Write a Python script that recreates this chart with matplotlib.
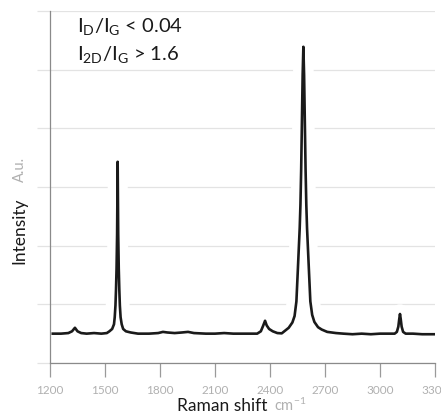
import matplotlib
matplotlib.use("Agg")
import matplotlib.pyplot as plt
import matplotlib.patheffects as pe

plt.rcParams['font.family'] = ['Lato', 'DejaVu Sans']
plt.rcParams['mathtext.fontset'] = 'custom'
plt.rcParams['mathtext.rm'] = 'Lato'
plt.rcParams['mathtext.it'] = 'Lato'

# Raman spectrum (shift in cm-1, intensity in a.u.)
shift = [1215, 1260, 1300, 1320, 1336, 1350, 1370, 1400, 1440, 1480, 1510,
         1524, 1539, 1549, 1553, 1557, 1560, 1563, 1566, 1569, 1572, 1575,
         1578, 1581, 1585, 1591, 1599, 1614, 1640, 1680, 1740, 1790, 1816,
         1840, 1880, 1920, 1953, 1985, 2050, 2100, 2150, 2200, 2250, 2300,
         2330, 2350, 2362, 2373, 2382, 2395, 2415, 2440, 2464, 2482, 2502,
         2522, 2534, 2544, 2552, 2557, 2562, 2566, 2570, 2574, 2578, 2582,
         2586, 2590, 2594, 2598, 2602, 2607, 2612, 2620, 2630, 2642, 2662,
         2682, 2712, 2760, 2800, 2850, 2900, 2950, 3000, 3060, 3080, 3092,
         3100, 3105, 3109, 3113, 3118, 3126, 3140, 3180, 3230, 3300]
intensity = [0.50, 0.50, 0.51, 0.54, 0.60, 0.54, 0.51, 0.50, 0.51, 0.50, 0.51,
             0.54, 0.58, 0.66, 0.78, 0.98, 1.25, 1.61, 2.20, 3.43, 2.20, 1.61,
             1.25, 0.98, 0.78, 0.66, 0.58, 0.54, 0.52, 0.50, 0.50, 0.51, 0.53,
             0.52, 0.51, 0.52, 0.53, 0.51, 0.50, 0.50, 0.51, 0.50, 0.50, 0.50,
             0.50, 0.54, 0.63, 0.72, 0.64, 0.58, 0.54, 0.51, 0.505, 0.55, 0.60,
             0.69, 0.80, 1.05, 1.60, 1.95, 2.30, 2.70, 3.30, 4.10, 4.90, 5.39,
             4.90, 4.10, 3.30, 2.70, 2.30, 1.95, 1.60, 1.05, 0.82, 0.70, 0.61,
             0.57, 0.53, 0.51, 0.50, 0.49, 0.50, 0.49, 0.50, 0.50, 0.50, 0.53,
             0.62, 0.75, 0.835, 0.75, 0.62, 0.53, 0.50, 0.50, 0.49, 0.49]

x_ticks = [1200, 1500, 1800, 2100, 2400, 2700, 3000, 3300]
y_grid = [0, 1, 2, 3, 4, 5, 6]

fig = plt.figure(figsize=(4.41, 4.19), dpi=100)
ax = fig.add_axes([0.1134, 0.1337, 0.873, 0.84])

ax.plot(shift, intensity, color='#1a1a1a', lw=1.9, solid_joinstyle='round',
        path_effects=[pe.Stroke(linewidth=14, foreground='white'), pe.Normal()])

ax.set_xlim(1200, 3300)
ax.set_ylim(0, 6)
ax.set_xticks(x_ticks)
ax.set_yticks(y_grid)
ax.set_yticklabels([])
ax.set_axisbelow(True)
ax.grid(axis='y', color='#e3e3e3', lw=0.9)

for s in ['top', 'right']:
    ax.spines[s].set_visible(False)
ax.spines['left'].set_color('#8a8a8a')
ax.spines['bottom'].set_color('#8a8a8a')
ax.spines['left'].set_linewidth(0.9)
ax.spines['bottom'].set_linewidth(0.9)

ax.tick_params(axis='x', length=10, width=0.9, color='#9a9a9a',
               labelsize=8.5, labelcolor='#b0b0b0', pad=6)
ax.tick_params(axis='y', length=9.5, width=0.9, color='#e3e3e3')

ax.text(0.07, 0.985, r'$\mathrm{I_D/I_G}$ < 0.04', transform=ax.transAxes,
        fontsize=14.5, va='top', ha='left', color='#1a1a1a')
ax.text(0.07, 0.905, r'$\mathrm{I_{2D}/I_G}$ > 1.6', transform=ax.transAxes,
        fontsize=14.5, va='top', ha='left', color='#1a1a1a')

# axis titles: dark word + light unit
fig.text(0.607, 0.012, 'Raman shift', fontsize=12.5, color='#1a1a1a', ha='right', va='bottom')
fig.text(0.622, 0.012, r'cm$^{-1}$', fontsize=10.5, color='#b0b0b0', ha='left', va='bottom')
fig.text(0.045, 0.45, 'Intensity', fontsize=12.5, color='#1a1a1a', rotation=90,
         ha='center', va='center')
fig.text(0.045, 0.595, 'A.u.', fontsize=10.5, color='#b0b0b0', rotation=90,
         ha='center', va='center')

fig.savefig('out.png', dpi=100)
